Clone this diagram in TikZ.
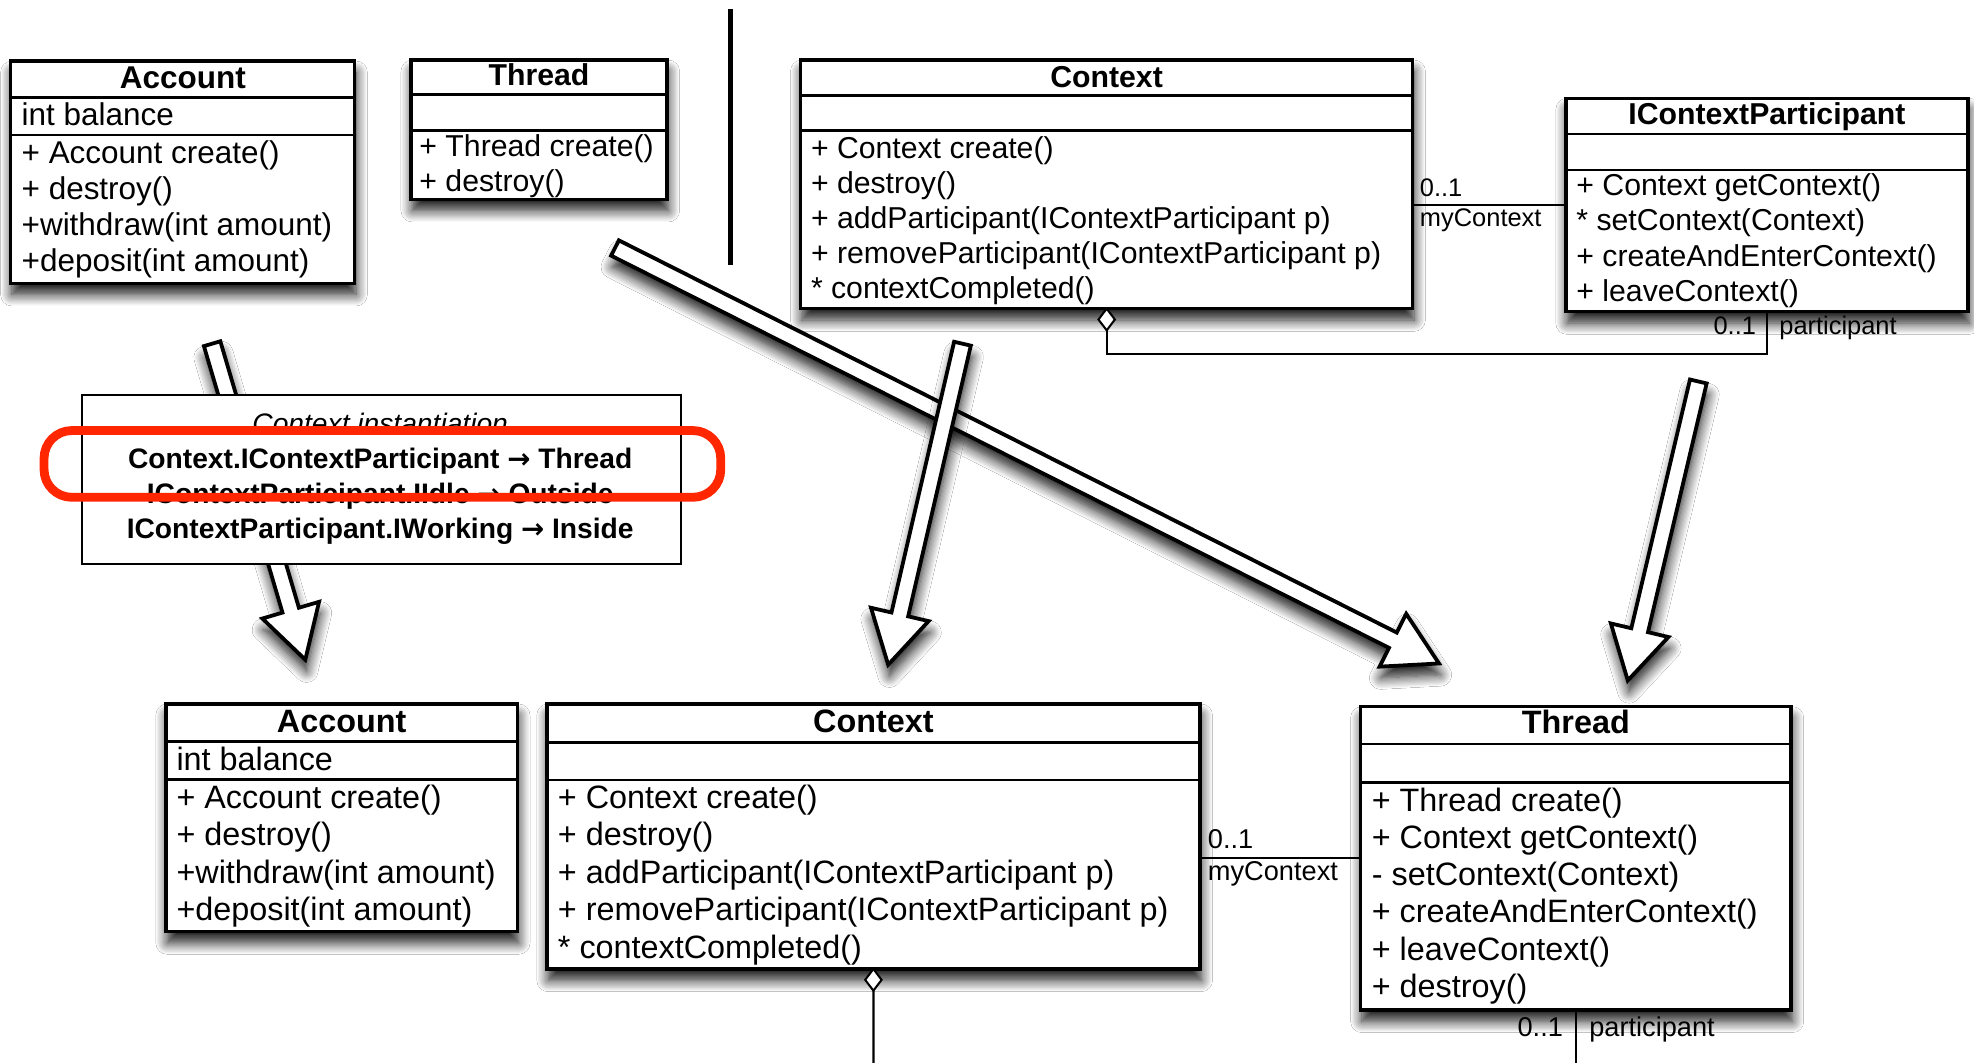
\documentclass[tikz,border=0pt]{standalone}
\usepackage{fontspec}
\setmainfont{Liberation Sans}
\newfontfamily\arrfont{DejaVu Sans}
\usetikzlibrary{calc,shadows.blur}
\definecolor{hl}{RGB}{255,38,0}
\newcommand\blockarr[3]{%
  \coordinate (#3b) at ($(#2)!41pt!(#1)$);
  \draw[blockarrow] ($(#1)!6.8pt!90:(#2)$) -- ($(#3b)!6.8pt!90:(#2)$) -- ($(#3b)!23.5pt!90:(#2)$) -- (#2)
    -- ($(#3b)!23.5pt!-90:(#2)$) -- ($(#3b)!6.8pt!-90:(#2)$) -- ($(#1)!6.8pt!-90:(#2)$) -- cycle;}
\newcommand\rarr{{\arrfont\fontsize{22}{22}\selectfont →}}
\begin{document}
\begin{tikzpicture}[x=1pt,y=-1pt,
  shad/.style={blur shadow={shadow xshift=1pt,shadow yshift=-9pt,shadow blur radius=9pt,shadow opacity=90,shadow blur steps=10}},
  cbox/.style={draw,line width=2.6pt,fill=white,inner sep=0pt,outer sep=0pt,anchor=north west,shad},
  div/.style={line width=2.3pt},
  assoc/.style={line width=1.8pt},
  blockarrow/.style={draw,line width=3pt,fill=white,line join=miter,shad},
  tT/.style={inner sep=0pt,anchor=base,font=\fontsize{24}{28}\selectfont\bfseries},
  mT/.style={inner sep=0pt,anchor=base west,font=\fontsize{24}{28}\selectfont},
  tA/.style={inner sep=0pt,anchor=base,font=\fontsize{25}{28}\selectfont\bfseries},
  mA/.style={inner sep=0pt,anchor=base west,font=\fontsize{25}{28}\selectfont},
  tB/.style={inner sep=0pt,anchor=base,font=\fontsize{25.7}{28}\selectfont\bfseries},
  mB/.style={inner sep=0pt,anchor=base west,font=\fontsize{25.7}{28}\selectfont},
  lblT/.style={inner sep=0pt,font=\fontsize{20.2}{24}\selectfont},
  lblB/.style={inner sep=0pt,font=\fontsize{21.6}{24}\selectfont},
  itxt/.style={inner sep=0pt,anchor=base,font=\fontsize{22.4}{26}\selectfont\bfseries},
  dia/.style={line width=1.6pt,fill=white,line join=miter}]
\useasboundingbox[fill=white] (0,0) rectangle (1568,844);

% ---- block arrows ----
\coordinate (a1t) at (168.5,273);
\coordinate (a1h) at (242.5,524);
\coordinate (a2t) at (488.5,197);
\coordinate (a2h) at (1143,527);
\coordinate (a3t) at (764.5,273);
\coordinate (a3h) at (705.5,528);
\coordinate (a4t) at (1349,303);
\coordinate (a4h) at (1293,540.5);
\blockarr{a1t}{a1h}{a1}
\blockarr{a2t}{a2h}{a2}
\blockarr{a3t}{a3h}{a3}
\blockarr{a4t}{a4h}{a4}

% ---- vertical separator ----
\coordinate (vA) at (580.6,7.4);
\coordinate (vB) at (580.6,210.5);
\draw[line width=4pt] (vA) -- (vB);

% ---- top Account ----
\node[cbox,minimum width=273.3pt,minimum height=176.5pt] (accT) at (8.5,48.5) {};
\draw[div] (8.5,77.6) -- (281.8,77.6);
\draw[div] (8.5,107.2) -- (281.8,107.2);
\node[tA] (accTn) at (145.2,70.2) {Account};
\node[mA] (accTa) at (17,100) {int balance};
\foreach \t [count=\i] in {{+ Account create()},{+ destroy()},{+withdraw(int amount)},{+deposit(int amount)}}
  \node[mA] (accTm\i) at (17,{129.5+28.8*(\i-1)}) {\t};

% ---- top Thread ----
\node[cbox,minimum width=203.3pt,minimum height=110.6pt] (thrT) at (326.5,47.7) {};
\draw[div] (326.5,74.9) -- (529.8,74.9);
\draw[div] (326.5,103.3) -- (529.8,103.3);
\node[tT] (thrTn) at (428.2,68.3) {Thread};
\foreach \t [count=\i] in {{+ Thread create()},{+ destroy()}}
  \node[mT] (thrTm\i) at (333,{124.4+27.8*(\i-1)}) {\t};

% ---- top Context ----
\node[cbox,minimum width=486.3pt,minimum height=197.5pt] (ctxT) at (635.9,47.7) {};
\draw[div] (635.9,76) -- (1122.2,76);
\draw[div] (635.9,104) -- (1122.2,104);
\node[tT] (ctxTn) at (879,69.4) {Context};
\foreach \t [count=\i] in {{+ Context create()},{+ destroy()},{+ addParticipant(IContextParticipant p)},{+ removeParticipant(IContextParticipant p)},{* contextCompleted()}}
  \node[mT] (ctxTm\i) at (644,{125.8+27.9*(\i-1)}) {\t};

% ---- top IContextParticipant ----
\node[cbox,minimum width=319.4pt,minimum height=169.5pt] (icp) at (1243.8,78.1) {};
\draw[div] (1243.8,106.4) -- (1563.2,106.4);
\draw[div] (1243.8,135) -- (1563.2,135);
\node[tT] (icpn) at (1403.5,98.5) {IContextParticipant};
\foreach \t [count=\i] in {{+ Context getContext()},{* setContext(Context)},{+ createAndEnterContext()},{+ leaveContext()}}
  \node[mT] (icpm\i) at (1252,{154.9+28.2*(\i-1)}) {\t};

% ---- top connectors ----
\coordinate (asTy) at (0,162.8);
\draw[assoc] (ctxT.east |- asTy) -- (icp.west |- asTy);
\node[lblT,anchor=base west] (lT1) at (1127.7,156.2) {0..1};
\node[lblT,anchor=base west] (lT2) at (1127.7,180) {myContext};
\draw[dia] (ctxT.south) -- ++(6.5,8.6) -- ++(-6.5,8.6) -- ++(-6.5,-8.6) -- cycle;
\coordinate (dT) at ($(ctxT.south)+(0,17.2)$);
\coordinate (agY) at (0,281.2);
\draw[assoc] (dT) -- (dT |- agY) -- (icp.south |- agY) -- (icp.south);
\node[lblT,anchor=base east] (lT3) at (1395,266) {0..1};
\node[lblT,anchor=base west] (lT4) at (1413.2,266) {participant};

% ---- instantiation box ----
\node[draw,line width=1.6pt,fill=white,inner sep=0pt,anchor=north west,minimum width=475.5pt,minimum height=134pt] (inst) at (64.3,313) {};
\node[itxt,font=\fontsize{22.4}{26}\selectfont\itshape] (inst1) at (302,344.2) {Context instantiation};
\node[itxt] (inst2) at (302,372) {Context.IContextParticipant \rarr{} Thread};
\node[itxt] (inst3) at (302,399.8) {IContextParticipant.IIdle \rarr{} Outside};
\node[itxt] (inst4) at (302,427.6) {IContextParticipant.IWorking \rarr{} Inside};
\node[draw=hl,line width=7pt,rounded corners=22pt,inner sep=0pt,anchor=north west,minimum width=537.5pt,minimum height=53pt] (hlbox) at (31.5,338.5) {};

% ---- bottom Account ----
\node[cbox,minimum width=279.2pt,minimum height=180.8pt] (accB) at (131.8,559.2) {};
\draw[div] (131.8,589.1) -- (411,589.1);
\draw[div] (131.8,619) -- (411,619);
\node[tB] (accBn) at (271.4,581.7) {Account};
\node[mB] (accBa) at (140,612) {int balance};
\foreach \t [count=\i] in {{+ Account create()},{+ destroy()},{+withdraw(int amount)},{+deposit(int amount)}}
  \node[mB] (accBm\i) at (140,{642+29.8*(\i-1)}) {\t};

% ---- bottom Context ----
\node[cbox,minimum width=518.7pt,minimum height=210.5pt] (ctxB) at (434.4,559.2) {};
\draw[div] (434.4,590) -- (953.1,590);
\draw[div] (434.4,619.6) -- (953.1,619.6);
\node[tB] (ctxBn) at (693.75,581.7) {Context};
\foreach \t [count=\i] in {{+ Context create()},{+ destroy()},{+ addParticipant(IContextParticipant p)},{+ removeParticipant(IContextParticipant p)},{* contextCompleted()}}
  \node[mB] (ctxBm\i) at (443,{642+29.8*(\i-1)}) {\t};

% ---- bottom Thread ----
\node[cbox,minimum width=341.9pt,minimum height=240.9pt] (thrB) at (1080.8,561.3) {};
\draw[div] (1080.8,591) -- (1422.7,591);
\draw[div] (1080.8,621.7) -- (1422.7,621.7);
\node[tB] (thrBn) at (1251.75,583) {Thread};
\foreach \t [count=\i] in {{+ Thread create()},{+ Context getContext()},{- setContext(Context)},{+ createAndEnterContext()},{+ leaveContext()},{+ destroy()}}
  \node[mB] (thrBm\i) at (1089.5,{644.2+29.6*(\i-1)}) {\t};

% ---- bottom connectors ----
\coordinate (asBy) at (0,681.8);
\draw[assoc] (ctxB.east |- asBy) -- (thrB.west |- asBy);
\node[lblB,anchor=base west] (lB1) at (959.3,673.8) {0..1};
\node[lblB,anchor=base west] (lB2) at (959.3,699) {myContext};
\draw[dia] (ctxB.south) -- ++(6.5,8.6) -- ++(-6.5,8.6) -- ++(-6.5,-8.6) -- cycle;
\coordinate (dB) at ($(ctxB.south)+(0,17.2)$);
\coordinate (dBend) at (693.75,846);
\draw[assoc] (dB) -- (dBend);
\coordinate (pBend) at (1251.75,846);
\draw[assoc] (thrB.south) -- (pBend);
\node[lblB,anchor=base east] (lB3) at (1241.7,823) {0..1};
\node[lblB,anchor=base west] (lB4) at (1262.2,823) {participant};
\end{tikzpicture}
\end{document}
